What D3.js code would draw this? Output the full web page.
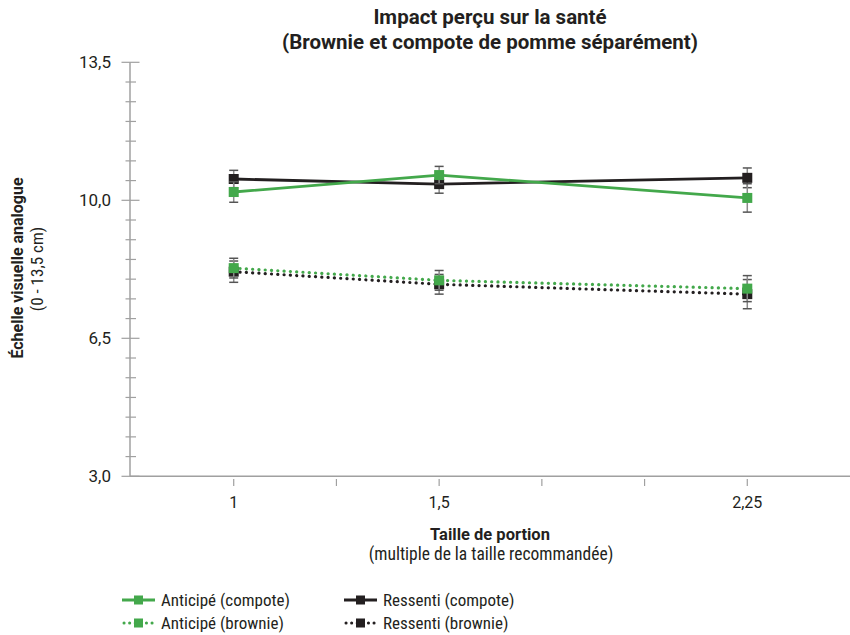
<!DOCTYPE html>
<html lang="fr">
<head>
<meta charset="utf-8">
<title>Impact perçu sur la santé</title>
<script src="https://cdn.jsdelivr.net/npm/d3@7"></script>
<style>
  body { margin: 0; background: #fff; }
  svg text { font-family: "Liberation Sans Narrow", "Roboto Condensed", "DejaVu Sans Condensed", "Arial Narrow", sans-serif; fill: #231f20; }
  svg text.wide { font-family: Roboto, "Liberation Sans", sans-serif; }
</style>
</head>
<body>
<script>
// Data
var portions = [1, 1.5, 2.25];
var xTickValues = [1, 1.25, 1.5, 1.75, 2, 2.25];
var xTickLabels = ["1", "", "1,5", "", "", "2,25"];
var yMajorTicks = [3, 6.5, 10, 13.5];
var yTickLabels = ["3,0", "6,5", "10,0", "13,5"];

var ressentiCompote = [10.54, 10.41, 10.57];
var ressentiCompoteErr = [0.22, 0.23, 0.25];
var ressentiBrownie = [8.19, 7.87, 7.62];
var ressentiBrownieErr = [0.27, 0.25, 0.37];
var anticipeCompote = [10.21, 10.64, 10.06];
var anticipeCompoteErr = [0.26, 0.22, 0.36];
var anticipeBrownie = [8.28, 7.97, 7.76];
var anticipeBrownieErr = [0.25, 0.25, 0.33];

var green = "#43a84b", black = "#231f20";

// drawing order: black first, green on top
var series = [
  { name: "Ressenti (compote)", values: ressentiCompote, err: ressentiCompoteErr, color: black, dotted: false },
  { name: "Ressenti (brownie)", values: ressentiBrownie, err: ressentiBrownieErr, color: black, dotted: true },
  { name: "Anticipé (compote)", values: anticipeCompote, err: anticipeCompoteErr, color: green, dotted: false },
  { name: "Anticipé (brownie)", values: anticipeBrownie, err: anticipeBrownieErr, color: green, dotted: true }
];

var w = 850, h = 635;
var svg = d3.select("body").append("svg").attr("width", w).attr("height", h);

var x = d3.scaleLinear().domain([0.75, 2.5]).range([131, 850]);
var y = d3.scaleLinear().domain([3, 13.5]).range([476.3, 62.3]);

// Title
svg.append("text").attr("class", "wide").attr("x", 490).attr("y", 24).attr("text-anchor", "middle")
   .style("font-weight", "bold").style("font-size", "20.5px").text("Impact perçu sur la santé");
svg.append("text").attr("class", "wide").attr("x", 490).attr("y", 49).attr("text-anchor", "middle")
   .style("font-weight", "bold").style("font-size", "20.5px").text("(Brownie et compote de pomme séparément)");

// Y axis
var axisColor = "#a0a0a0";
svg.append("line").attr("x1", 130).attr("x2", 130).attr("y1", y(13.5)).attr("y2", y(3))
   .attr("stroke", axisColor).attr("stroke-width", 1.5);
var minor = d3.range(3, 13.51, 0.5).filter(function(v) { return yMajorTicks.indexOf(v) < 0; });
svg.selectAll(".yminor").data(minor).enter().append("line")
   .attr("x1", 125.5).attr("x2", 136).attr("y1", function(d) { return y(d); }).attr("y2", function(d) { return y(d); })
   .attr("stroke", axisColor).attr("stroke-width", 1.2);
svg.selectAll(".ymajor").data(yMajorTicks).enter().append("line")
   .attr("x1", 121.5).attr("x2", 139.5).attr("y1", function(d) { return y(d); }).attr("y2", function(d) { return y(d); })
   .attr("stroke", axisColor).attr("stroke-width", 1.2);
svg.selectAll(".ylab").data(yMajorTicks).enter().append("text").attr("class", "wide")
   .attr("x", 111).attr("y", function(d) { return y(d) + 6; }).attr("text-anchor", "end")
   .style("font-size", "17px").text(function(d, i) { return yTickLabels[i]; });

// X axis
svg.append("line").attr("x1", 130).attr("x2", 850).attr("y1", y(3)).attr("y2", y(3))
   .attr("stroke", axisColor).attr("stroke-width", 1.5);
svg.selectAll(".xtick").data(xTickValues).enter().append("line")
   .attr("x1", function(d) { return x(d); }).attr("x2", function(d) { return x(d); })
   .attr("y1", 479).attr("y2", 486).attr("stroke", axisColor).attr("stroke-width", 1.2);
svg.selectAll(".xlab").data(xTickValues).enter().append("text").attr("class", "wide")
   .attr("x", function(d) { return x(d); }).attr("y", 508).attr("text-anchor", "middle")
   .style("font-size", "16px").text(function(d, i) { return xTickLabels[i]; });

// Axis titles
svg.append("text").attr("class", "wide").attr("x", 490).attr("y", 540).attr("text-anchor", "middle")
   .style("font-weight", "bold").style("font-size", "16.5px").text("Taille de portion");
svg.append("text").attr("x", 491).attr("y", 560).attr("text-anchor", "middle")
   .style("font-size", "17.5px").text("(multiple de la taille recommandée)");
svg.append("text").attr("class", "wide").attr("transform", "translate(23,268) rotate(-90)").attr("text-anchor", "middle")
   .style("font-weight", "bold").style("font-size", "16px").text("Échelle visuelle analogue");
svg.append("text").attr("transform", "translate(43,269) rotate(-90)").attr("text-anchor", "middle")
   .style("font-size", "17px").text("(0 - 13,5 cm)");

// Series
var line = d3.line().x(function(d) { return x(d.x); }).y(function(d) { return y(d.v); });

series.forEach(function(s) {
  var pts = portions.map(function(p, i) { return { x: p, v: s.values[i], e: s.err[i] }; });
  var g = svg.append("g");

  // error bars
  g.selectAll(".eb").data(pts).enter().append("line")
    .attr("x1", function(d) { return x(d.x); }).attr("x2", function(d) { return x(d.x); })
    .attr("y1", function(d) { return y(d.v + d.e); }).attr("y2", function(d) { return y(d.v - d.e); })
    .attr("stroke", "#8a8a8a").attr("stroke-width", 1.5);
  [1, -1].forEach(function(sign) {
    g.selectAll(".cap").data(pts).enter().append("line")
      .attr("x1", function(d) { return x(d.x) - 4.5; }).attr("x2", function(d) { return x(d.x) + 4.5; })
      .attr("y1", function(d) { return y(d.v + sign * d.e); }).attr("y2", function(d) { return y(d.v + sign * d.e); })
      .attr("stroke", "#555").attr("stroke-width", 1.5);
  });

  g.append("path").datum(pts).attr("d", line).attr("fill", "none")
    .attr("stroke", s.color)
    .attr("stroke-width", s.dotted ? 3.2 : 2.8)
    .attr("stroke-linecap", s.dotted ? "round" : "butt")
    .attr("stroke-dasharray", s.dotted ? "0.1 6.2" : null);

  g.selectAll(".mk").data(pts).enter().append("rect")
    .attr("x", function(d) { return x(d.x) - 5; }).attr("y", function(d) { return y(d.v) - 5; })
    .attr("width", 10).attr("height", 10).attr("fill", s.color);
});

// Legend
var legendItems = [
  { s: series[2], lx: 122, ly: 600 },
  { s: series[3], lx: 122, ly: 623 },
  { s: series[0], lx: 344, ly: 600 },
  { s: series[1], lx: 344, ly: 623 }
];
legendItems.forEach(function(it) {
  var s = it.s;
  var g = svg.append("g").attr("transform", "translate(" + it.lx + "," + it.ly + ")");
  g.append("line").attr("x1", s.dotted ? 2 : 0).attr("x2", 33).attr("y1", 0).attr("y2", 0)
    .attr("stroke", s.color).attr("stroke-width", s.dotted ? 3 : 2.8)
    .attr("stroke-linecap", s.dotted ? "round" : "butt")
    .attr("stroke-dasharray", s.dotted ? "0.1 5.5" : null);
  g.append("rect").attr("x", 12).attr("y", -4.5).attr("width", 9).attr("height", 9).attr("fill", s.color);
  g.append("text").attr("x", 39).attr("y", 5.5).style("font-size", "17px").text(s.name);
});
</script>
</body>
</html>
